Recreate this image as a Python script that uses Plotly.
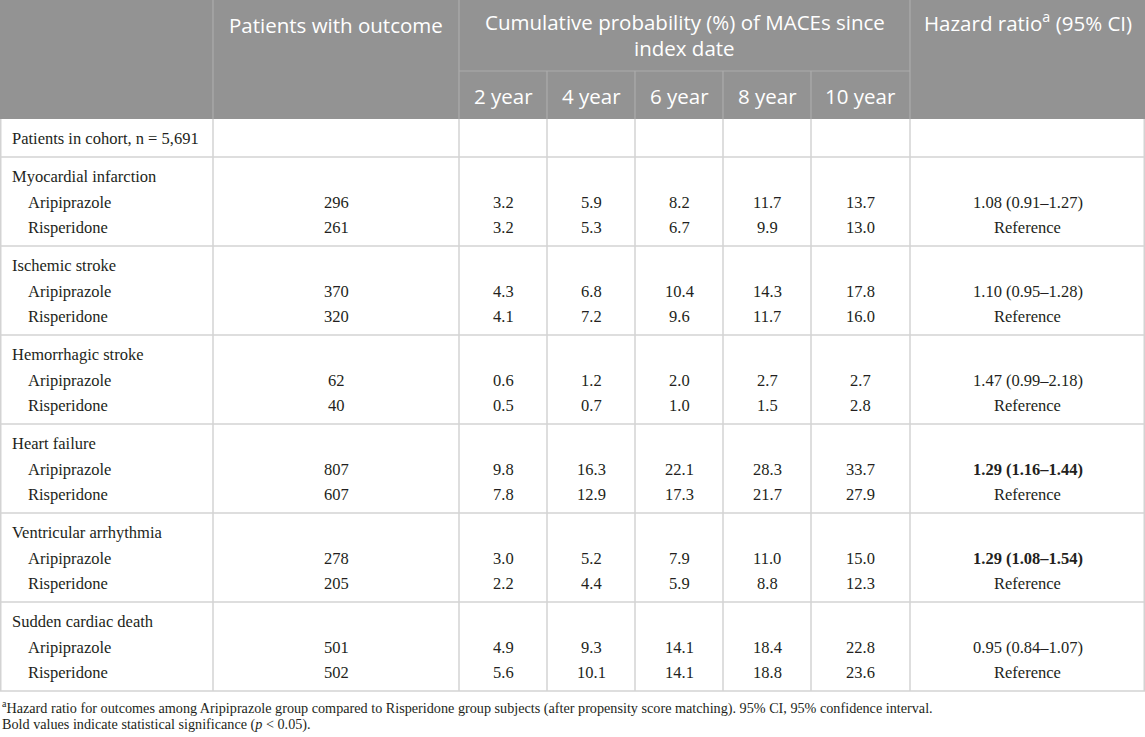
import plotly.graph_objects as go

# ---------------- data ----------------
outcomes = ["Myocardial infarction", "Ischemic stroke", "Hemorrhagic stroke",
            "Heart failure", "Ventricular arrhythmia", "Sudden cardiac death"]
groups = ["Aripiprazole", "Risperidone"]
years = ["2 year", "4 year", "6 year", "8 year", "10 year"]

arip_n = [296, 370, 62, 807, 278, 501]
risp_n = [261, 320, 40, 607, 205, 502]

arip_prob = [
    [3.2, 5.9, 8.2, 11.7, 13.7],
    [4.3, 6.8, 10.4, 14.3, 17.8],
    [0.6, 1.2, 2.0, 2.7, 2.7],
    [9.8, 16.3, 22.1, 28.3, 33.7],
    [3.0, 5.2, 7.9, 11.0, 15.0],
    [4.9, 9.3, 14.1, 18.4, 22.8],
]
risp_prob = [
    [3.2, 5.3, 6.7, 9.9, 13.0],
    [4.1, 7.2, 9.6, 11.7, 16.0],
    [0.5, 0.7, 1.0, 1.5, 2.8],
    [7.8, 12.9, 17.3, 21.7, 27.9],
    [2.2, 4.4, 5.9, 8.8, 12.3],
    [5.6, 10.1, 14.1, 18.8, 23.6],
]
hr_value = [1.08, 1.10, 1.47, 1.29, 1.29, 0.95]
hr_low = [0.91, 0.95, 0.99, 1.16, 1.08, 0.84]
hr_high = [1.27, 1.28, 2.18, 1.44, 1.54, 1.07]
hr_significant = [False, False, False, True, True, False]
reference_label = "Reference"

cohort_label = "Patients in cohort, n = 5,691"
header_patients = "Patients with outcome"
header_cum_1 = "Cumulative probability (%) of MACEs since"
header_cum_2 = "index date"
header_hr = "Hazard ratio<sup>a</sup> (95% CI)"
footnote_1 = ("<sup>a</sup>Hazard ratio for outcomes among Aripiprazole group compared to "
              "Risperidone group subjects (after propensity score matching). 95% CI, 95% confidence interval.")
footnote_2 = "Bold values indicate statistical significance (<i>p</i> < 0.05)."

# ---------------- layout geometry ----------------
W, H = 1145, 737
col_edges = [0, 213, 459, 547, 635, 723, 811, 910, 1145]
header_bottom = 119
sub_header_top = 71
cohort_bottom = 157
group_h = 89
table_bottom = cohort_bottom + group_h * len(outcomes)

HEADER_BG = "rgb(147,147,147)"
HEADER_LINE = "rgb(172,172,172)"
GRID = "rgb(211,211,211)"
TEXT = "rgb(35,31,32)"
SERIF = "Liberation Serif"
SANS = "Open Sans"
BODY_SIZE = 16.5
HEAD_SIZE = 20.5
FOOT_SIZE = 14.2

shapes = []
annotations = []


def line(x0, y0, x1, y1, color=GRID, width=1.5):
    shapes.append(dict(type="line", x0=x0, y0=y0, x1=x1, y1=y1, xref="x", yref="y",
                       line=dict(color=color, width=width), layer="above"))


def text(x, y, s, size=BODY_SIZE, family=SERIF, color=TEXT, xanchor="center"):
    annotations.append(dict(x=x, y=y, xref="x", yref="y", text=s, showarrow=False,
                            xanchor=xanchor, yanchor="middle", borderpad=0,
                            font=dict(family=family, size=size, color=color)))


# header background
shapes.append(dict(type="rect", x0=0, y0=0, x1=W, y1=header_bottom, xref="x", yref="y",
                   fillcolor=HEADER_BG, line=dict(width=0), layer="below"))
# header separators
for x in (col_edges[1], col_edges[2], col_edges[7]):
    line(x, 0, x, header_bottom, HEADER_LINE, 1.2)
for x in col_edges[3:7]:
    line(x, sub_header_top, x, header_bottom, HEADER_LINE, 1.2)
line(col_edges[2], sub_header_top, col_edges[7], sub_header_top, HEADER_LINE, 1.2)

# body grid
for x in col_edges[1:-1]:
    line(x, header_bottom, x, table_bottom)
line(0.75, header_bottom, 0.75, table_bottom)
line(W - 0.75, header_bottom, W - 0.75, table_bottom)
row_lines = [cohort_bottom + group_h * i for i in range(len(outcomes) + 1)]
for y in row_lines:
    line(0, y, W, y)

# header texts
centers = [(col_edges[i] + col_edges[i + 1]) / 2 for i in range(len(col_edges) - 1)]
text(centers[1], 25, header_patients, HEAD_SIZE, SANS, "white")
text((col_edges[2] + col_edges[7]) / 2, 22, header_cum_1, HEAD_SIZE, SANS, "white")
text((col_edges[2] + col_edges[7]) / 2, 48, header_cum_2, HEAD_SIZE, SANS, "white")
text(centers[7], 22, header_hr, HEAD_SIZE, SANS, "white")
for j, yr in enumerate(years):
    text(centers[2 + j], 96, yr, HEAD_SIZE, SANS, "white")

# cohort row
text(11, (header_bottom + cohort_bottom) / 2, cohort_label, xanchor="left")

# outcome groups
for i, name in enumerate(outcomes):
    top = cohort_bottom + group_h * i
    y_title = top + 19.5
    y_a = top + 45
    y_r = top + 70.5
    text(11, y_title, name, xanchor="left")
    text(27, y_a, groups[0], xanchor="left")
    text(27, y_r, groups[1], xanchor="left")
    text(centers[1], y_a, str(arip_n[i]))
    text(centers[1], y_r, str(risp_n[i]))
    for j in range(len(years)):
        text(centers[2 + j], y_a, f"{arip_prob[i][j]:.1f}")
        text(centers[2 + j], y_r, f"{risp_prob[i][j]:.1f}")
    hr = f"{hr_value[i]:.2f} ({hr_low[i]:.2f}–{hr_high[i]:.2f})"
    if hr_significant[i]:
        hr = f"<b>{hr}</b>"
    text(centers[7], y_a, hr)
    text(centers[7], y_r, reference_label)

# footnotes
text(1, 707.5, footnote_1, FOOT_SIZE, xanchor="left")
text(1, 724, footnote_2, FOOT_SIZE, xanchor="left")

fig = go.Figure()
fig.update_layout(
    width=W, height=H,
    margin=dict(l=0, r=0, t=0, b=0),
    paper_bgcolor="white", plot_bgcolor="white",
    xaxis=dict(range=[0, W], visible=False, fixedrange=True),
    yaxis=dict(range=[H, 0], visible=False, fixedrange=True),
    shapes=shapes, annotations=annotations, showlegend=False,
)
fig.write_html("out.html", config={"displayModeBar": False},
               post_script="document.body.style.margin='0';document.body.style.overflow='hidden';")
